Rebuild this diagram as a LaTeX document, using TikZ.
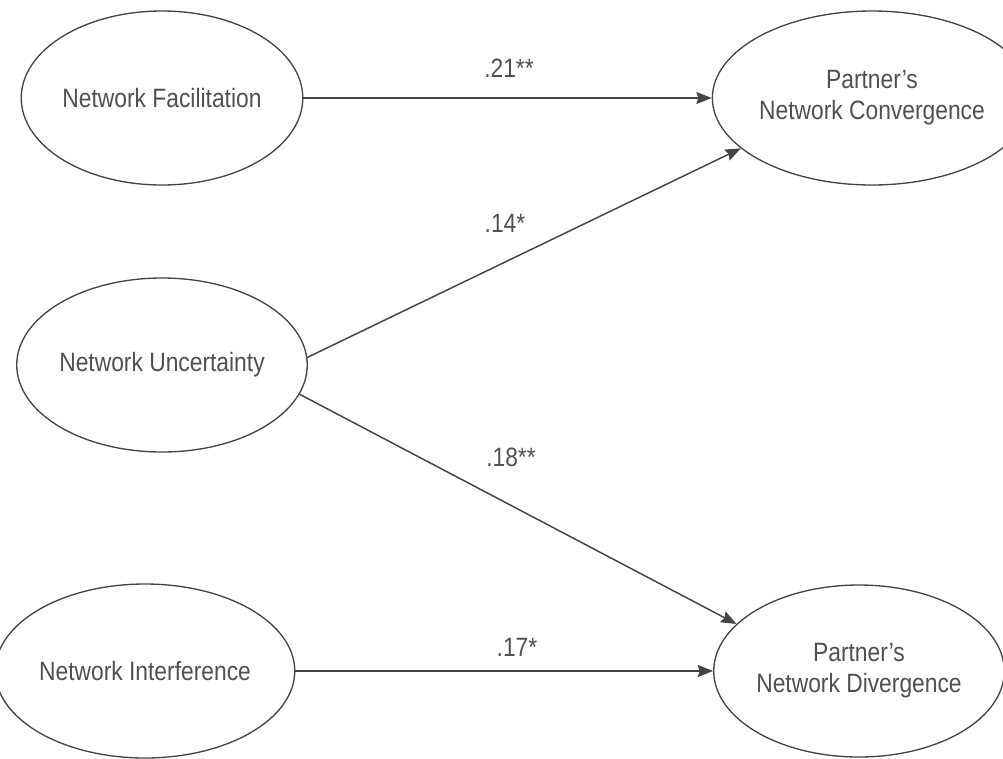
\documentclass[tikz,border=0pt]{standalone}
\usepackage{fontspec}
\setmainfont{Liberation Sans}[FakeStretch=0.86]
\usetikzlibrary{shapes.geometric,arrows.meta}
\definecolor{linegray}{HTML}{444444}
\definecolor{textgray}{HTML}{505050}
\begin{document}
\begin{tikzpicture}[x=0.75pt,y=-0.75pt,
  latent/.style={ellipse,draw=linegray,line width=1pt,inner sep=0pt,
    minimum width=204pt,minimum height=130.5pt,align=center,
    text=textgray,font=\fontsize{19.9}{23.25}\selectfont},
  coef/.style={text=textgray,font=\fontsize{19.9}{23.25}\selectfont,inner sep=0pt},
  arr/.style={draw=linegray,line width=1.1pt,
    -{Stealth[length=11.5pt,width=9pt,inset=1.5pt]}}]
\useasboundingbox (0,0) rectangle (1003,758);
\node[latent] (fac) at (162,98) {Network Facilitation};
\node[latent] (unc) at (162,365) {Network Uncertainty};
\node[latent,minimum width=205.5pt] (int) at (145,671) {Network Interference};
\node[latent,minimum width=199.5pt] (conv) at (872,98) {Partner’s\\Network Convergence};
\node[latent,minimum height=129pt] (div) at (859,671) {Partner’s\\Network Divergence};
\draw[arr] (fac) -- (conv);
\draw[arr] (unc.3) -- (conv.201);
\draw[arr] (unc.-12.6) -- (div.159);
\draw[arr] (int) -- (div);
\node[coef] (c1) at (509,68) {.21**};
\node[coef] (c2) at (505,223) {.14*};
\node[coef] (c3) at (511,457) {.18**};
\node[coef] (c4) at (517,647) {.17*};
\end{tikzpicture}
\end{document}
